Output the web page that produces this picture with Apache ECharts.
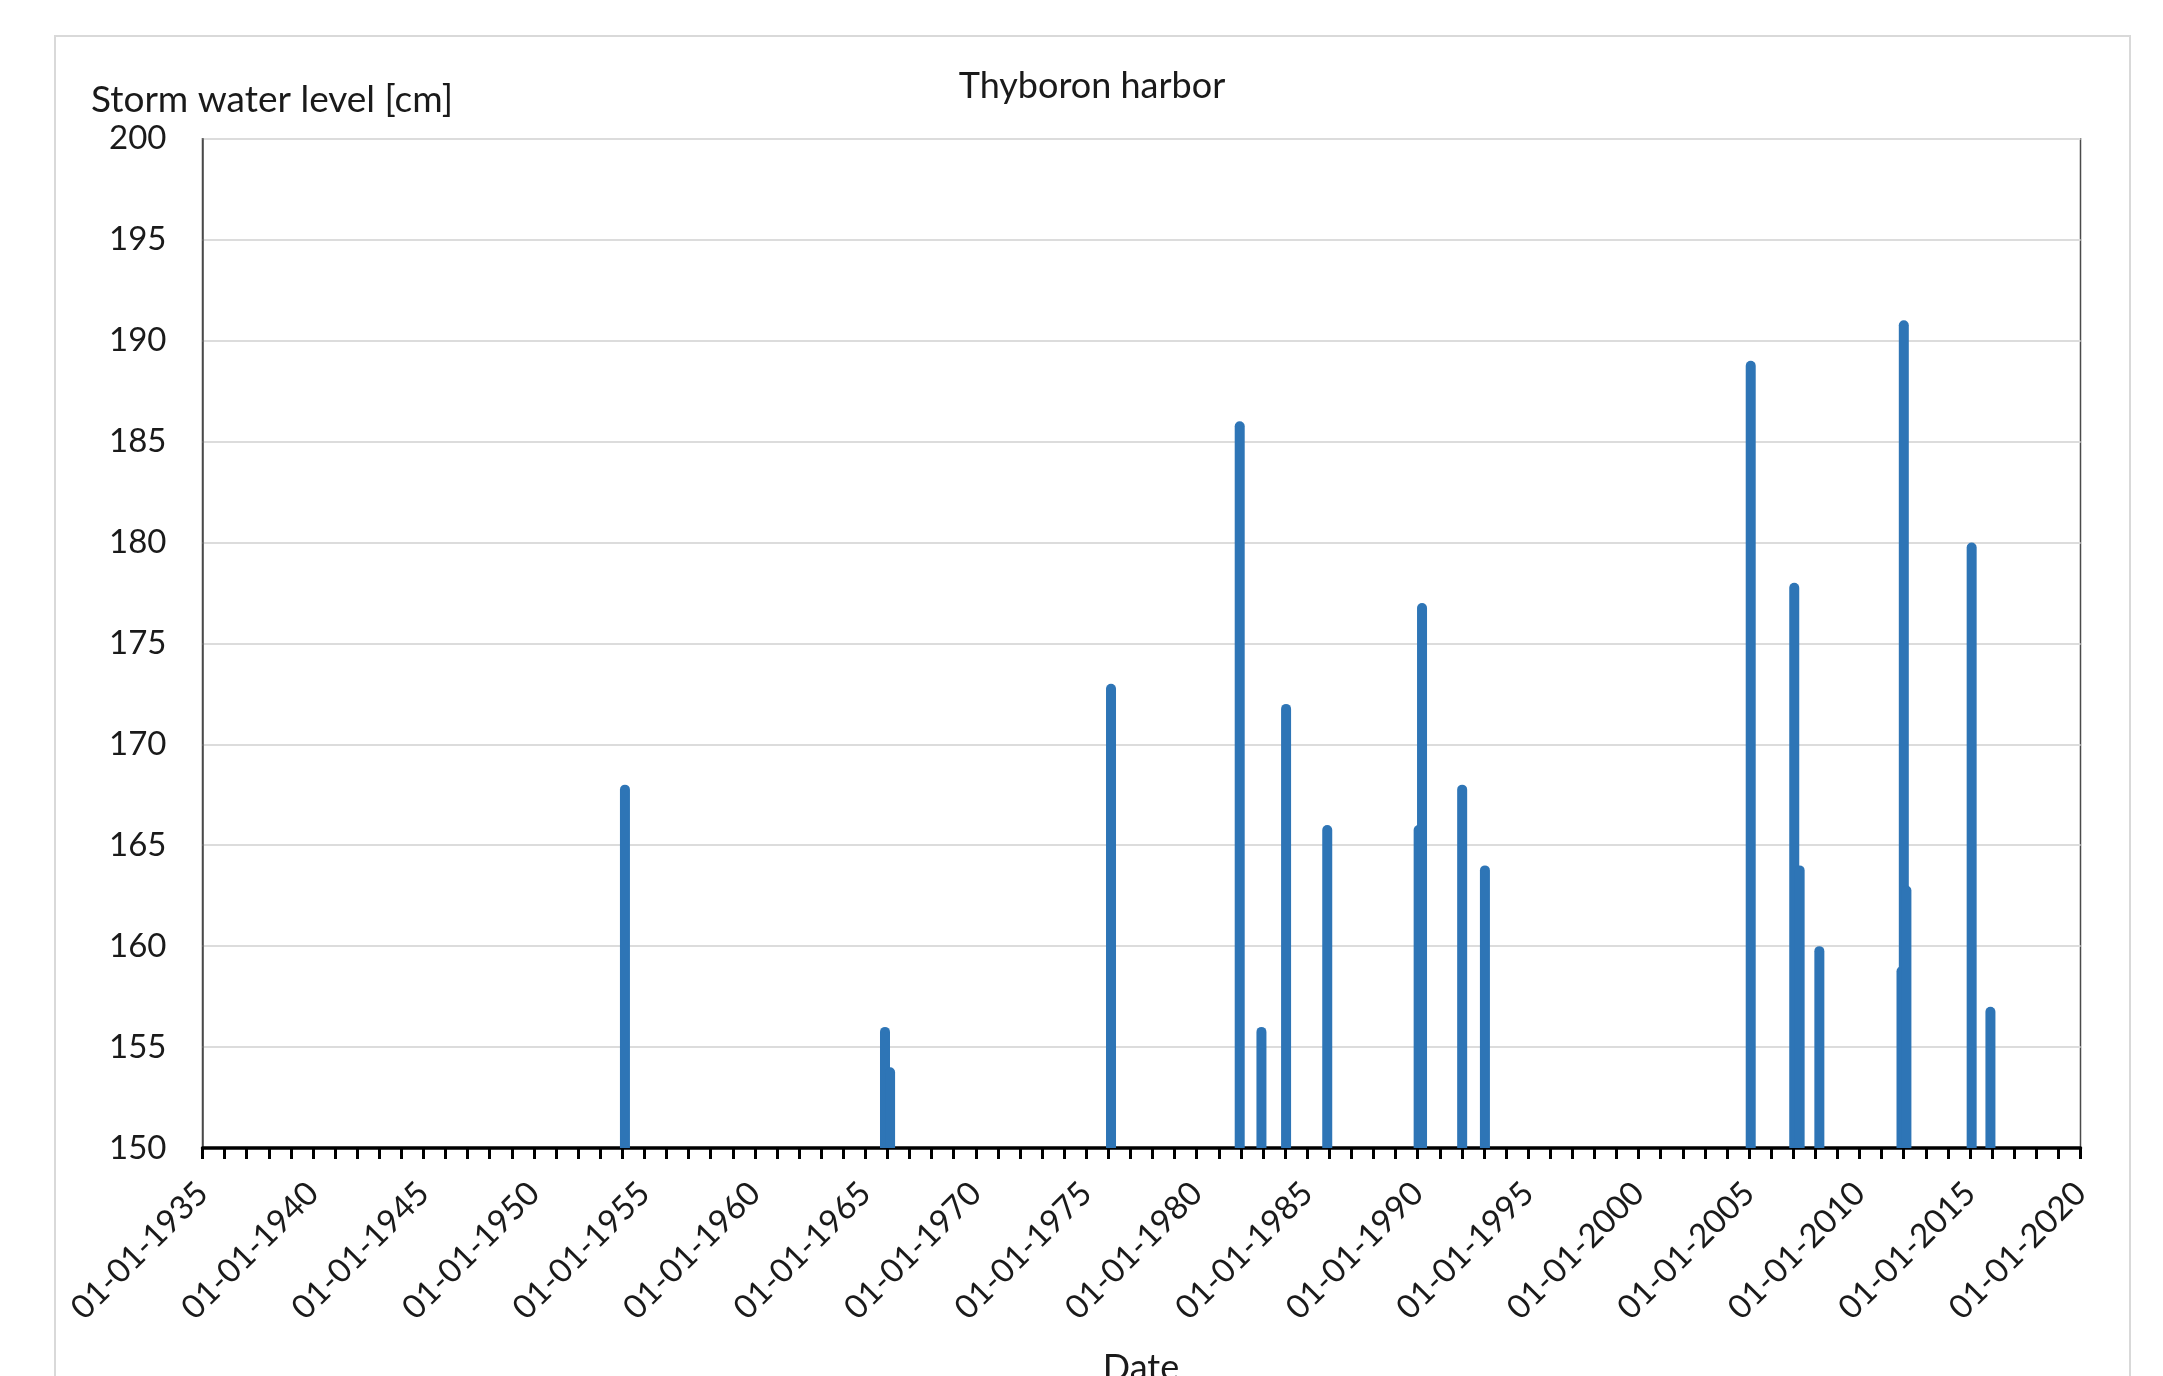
<!DOCTYPE html>
<html>
<head>
<meta charset="utf-8">
<script src="https://cdn.jsdelivr.net/npm/echarts@6/dist/echarts.min.js"></script>
<style>
  html, body { margin: 0; padding: 0; background: #ffffff; }
  #chart { width: 2163px; height: 1376px; }
</style>
</head>
<body>
<div id="chart"></div>
<script>
// ---- data ----
const eventDates = [
  '1954-02-14', '1965-11-22', '1966-02-14', '1976-02-14',
  '1981-12-12', '1982-12-06', '1984-01-17', '1985-11-28',
  '1990-01-17', '1990-03-14', '1992-01-06', '1993-01-17',
  '2005-01-28', '2007-01-17', '2007-04-16', '2008-03-07',
  '2011-11-25', '2012-01-02', '2012-02-14', '2015-01-28', '2015-12-04'
];
const waterLevels = [
  168, 156, 154, 173,
  186, 156, 172, 166,
  166, 177, 168, 164,
  189, 178, 164, 160,
  159, 191, 163, 180, 157
];
const xTickYears = [1935, 1940, 1945, 1950, 1955, 1960, 1965, 1970, 1975, 1980, 1985, 1990, 1995, 2000, 2005, 2010, 2015, 2020];
const yTicks = [150, 155, 160, 165, 170, 175, 180, 185, 190, 195, 200];
const chartTitle = 'Thyboron harbor';
const yAxisTitle = 'Storm water level [cm]';
const xAxisTitle = 'Date';

// date string -> decimal year (position on the date axis)
function toDecimalYear(s) {
  const [y, m, d] = s.split('-').map(Number);
  const start = Date.UTC(y, 0, 1);
  const end = Date.UTC(y + 1, 0, 1);
  return y + (Date.UTC(y, m - 1, d) - start) / (end - start);
}
const seriesData = eventDates.map((d, i) => [toDecimalYear(d), waterLevels[i]]);

const FONT = 'Lato';
const TXT = '#1a1a1a';

const chart = echarts.init(document.getElementById('chart'), null, { renderer: 'canvas' });
chart.setOption({
  backgroundColor: '#ffffff',
  animation: false,
  grid: {
    left: 202.5, right: 82.5, top: 138.7, bottom: 228,
    show: true, borderColor: '#4a4a4a', borderWidth: 1.5, backgroundColor: 'transparent'
  },
  xAxis: {
    type: 'value',
    min: xTickYears[0], max: xTickYears[xTickYears.length - 1], interval: 5,
    axisLine: { show: true, onZero: false, lineStyle: { color: '#000000', width: 3.5 } },
    axisTick: { show: true, length: 11, lineStyle: { color: '#000000', width: 3 } },
    minorTick: { show: true, splitNumber: 5, length: 11, lineStyle: { color: '#000000', width: 3 } },
    splitLine: { show: false },
    axisLabel: {
      rotate: 45, margin: 40, fontFamily: FONT, fontSize: 33, color: TXT,
      formatter: v => '01-01-' + v
    }
  },
  yAxis: {
    type: 'value', min: yTicks[0], max: yTicks[yTicks.length - 1], interval: 5,
    axisLine: { show: true, lineStyle: { color: '#4a4a4a', width: 1.5 } },
    axisTick: { show: false },
    splitLine: { show: true, lineStyle: { color: '#dcdcdc', width: 2 } },
    axisLabel: { margin: 36, fontFamily: FONT, fontSize: 33, color: TXT }
  },
  series: [{
    type: 'bar',
    data: seriesData,
    barWidth: 10,
    itemStyle: { color: '#2E75B6', borderRadius: [5, 5, 0, 0] },
    z: 1
  }],
  graphic: [
    { type: 'rect', shape: { x: 55, y: 36, width: 2075, height: 1400 },
      style: { fill: 'none', stroke: '#d9d9d9', lineWidth: 2 }, silent: true, z: -10 },
    { type: 'text', x: 1092, y: 86,
      style: { text: chartTitle, font: '36px Lato', fill: TXT, textAlign: 'center', textVerticalAlign: 'middle' } },
    { type: 'text', x: 91, y: 100,
      style: { text: yAxisTitle, font: '37px Lato', fill: TXT, textAlign: 'left', textVerticalAlign: 'middle' } },
    { type: 'text', x: 1141, y: 1368,
      style: { text: xAxisTitle, font: '36px Lato', fill: TXT, textAlign: 'center', textVerticalAlign: 'middle' } }
  ]
});
</script>
</body>
</html>
